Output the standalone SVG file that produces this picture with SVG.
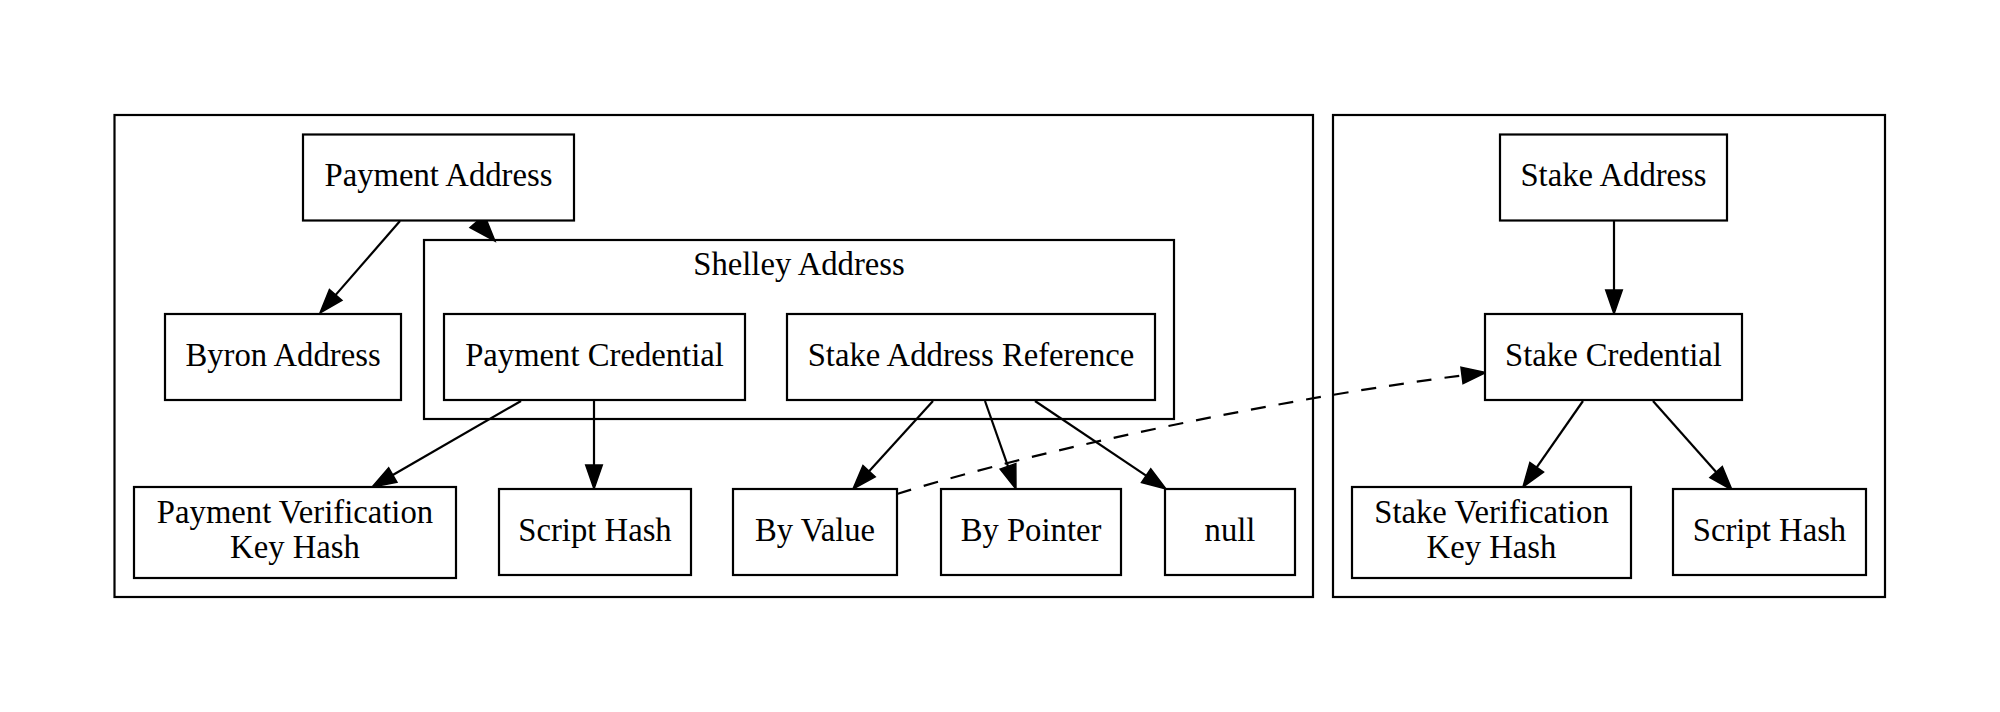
<svg xmlns="http://www.w3.org/2000/svg" width="2000" height="712" viewBox="0 0 2000 712">
<style>
  .cl { fill: none; stroke: #000; stroke-width: 2.2; }
  .nd { fill: #fff; stroke: #000; stroke-width: 2.2; }
  .tx { font-family: "Liberation Serif", "Times New Roman", serif; font-size: 32.7px; fill: #000; text-anchor: middle; }
  .ed { fill: none; stroke: #000; stroke-width: 2.2; marker-end: url(#arr); }
  .dash { stroke-dasharray: 15 13; }
</style>
<defs>
  <marker id="arr" markerUnits="userSpaceOnUse" refX="0" refY="0" markerWidth="30" markerHeight="20" orient="auto" overflow="visible">
    <path d="M0,-8.3 L24,0 L0,8.3 Z" fill="#000" stroke="#000" stroke-width="1.5"/>
  </marker>
</defs>
<rect width="2000" height="712" fill="#fff"/>

<g id="cluster_payment">
  <rect class="cl" x="114.5" y="115" width="1198.5" height="482"/>
</g>
<g id="cluster_stake">
  <rect class="cl" x="1333" y="115" width="552" height="482"/>
</g>
<g id="cluster_shelley">
  <rect class="cl" x="424" y="240" width="750" height="179"/>
  <text class="tx" x="799" y="275">Shelley Address</text>
</g>

<g id="connectors">
  <path class="ed" d="M400,221 L335.7,294.9"/>
  <polygon points="470,227.5 484.5,215 495,241" fill="#000" stroke="#000" stroke-width="1.5"/>
  <path class="ed" d="M521,401 L392.8,475"/>
  <path class="ed" d="M594,401 L594,465"/>
  <path class="ed" d="M933,401 L869.1,471.2"/>
  <path class="ed" d="M985,401 L1008,466.4"/>
  <path class="ed" d="M1035,401 L1146.1,475.6"/>
  <path class="ed dash" d="M897,494 C1050,446 1300,396 1462,375.5"/>
  <path class="ed" d="M1614,221 L1614,290"/>
  <path class="ed" d="M1583,401 L1536.7,467.3"/>
  <path class="ed" d="M1653,401 L1716.1,472"/>
</g>

<g id="payment_address">
  <rect class="nd" x="303" y="134.5" width="271" height="86"/>
  <text class="tx" x="438.5" y="186">Payment Address</text>
</g>
<g id="byron_address">
  <rect class="nd" x="165" y="314" width="236" height="86"/>
  <text class="tx" x="283" y="366">Byron Address</text>
</g>
<g id="payment_credential">
  <rect class="nd" x="444" y="314" width="301" height="86"/>
  <text class="tx" x="594.5" y="366">Payment Credential</text>
</g>
<g id="stake_address_reference">
  <rect class="nd" x="787" y="314" width="368" height="86"/>
  <text class="tx" x="971" y="366">Stake Address Reference</text>
</g>
<g id="payment_vkh">
  <rect class="nd" x="134" y="487" width="322" height="91"/>
  <text class="tx" x="295" y="523">Payment Verification</text>
  <text class="tx" x="295" y="558">Key Hash</text>
</g>
<g id="payment_script_hash">
  <rect class="nd" x="499" y="489" width="192" height="86"/>
  <text class="tx" x="595" y="541">Script Hash</text>
</g>
<g id="by_value">
  <rect class="nd" x="733" y="489" width="164" height="86"/>
  <text class="tx" x="815" y="541">By Value</text>
</g>
<g id="by_pointer">
  <rect class="nd" x="941" y="489" width="180" height="86"/>
  <text class="tx" x="1031" y="541">By Pointer</text>
</g>
<g id="null">
  <rect class="nd" x="1165" y="489" width="130" height="86"/>
  <text class="tx" x="1230" y="541">null</text>
</g>
<g id="stake_address">
  <rect class="nd" x="1500" y="134.5" width="227" height="86"/>
  <text class="tx" x="1613.5" y="186">Stake Address</text>
</g>
<g id="stake_credential">
  <rect class="nd" x="1485" y="314" width="257" height="86"/>
  <text class="tx" x="1613.5" y="366">Stake Credential</text>
</g>
<g id="stake_vkh">
  <rect class="nd" x="1352" y="487" width="279" height="91"/>
  <text class="tx" x="1491.5" y="523">Stake Verification</text>
  <text class="tx" x="1491.5" y="558">Key Hash</text>
</g>
<g id="stake_script_hash">
  <rect class="nd" x="1673" y="489" width="193" height="86"/>
  <text class="tx" x="1769.5" y="541">Script Hash</text>
</g>
</svg>
